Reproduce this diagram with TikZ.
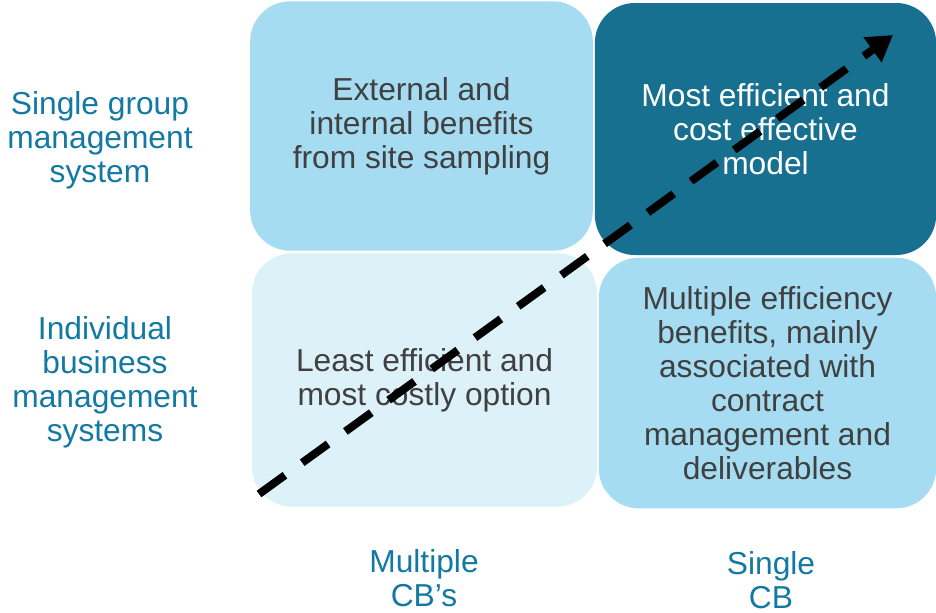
\documentclass[tikz,border=0pt]{standalone}
\usepackage{fontspec}
\setmainfont{Liberation Sans}
\usepackage{tikz}
\usetikzlibrary{arrows.meta,positioning,shapes}
\definecolor{lightcell}{HTML}{A5DCF2}
\definecolor{palecell}{HTML}{DDF1F9}
\definecolor{darkcell}{HTML}{17708F}
\definecolor{axistext}{HTML}{1279A3}
\definecolor{celltext}{HTML}{404040}
\begin{document}
\begin{tikzpicture}[x=0.75pt,y=-0.75pt,every node/.style={font=\fontsize{23.8}{25.5}\selectfont,align=center},cell/.style={rectangle,rounded corners=30pt,text=celltext,inner sep=0pt},axis label/.style={text=axistext},trend/.style={line width=6pt,dash pattern=on 24pt off 16pt,-{Triangle[length=19pt,width=22pt]}}]
\useasboundingbox (0,0) rectangle (936,612);
\begin{scope}
\node[cell,fill=lightcell,minimum width=257pt,minimum height=187pt] (GM) at (421.5,126) {External and\\internal benefits\\from site sampling};
\node[cell,fill=darkcell,text=white,minimum width=256pt,minimum height=189pt] (GS) at (765.5,129) {Most efficient and\\cost effective\\model};
\node[cell,fill=palecell,minimum width=259pt,minimum height=190pt] (IM) at (424.5,380) {Least efficient and\\most costly option};
\node[cell,fill=lightcell,minimum width=253pt,minimum height=188pt] (IS) at (767.5,383) {Multiple efficiency\\benefits, mainly\\associated with\\contract\\management and\\deliverables};
\end{scope}
\begin{scope}
\node[axis label] (group) at (100,140) {Single group\\management\\system};
\node[axis label] (indiv) at (105,382) {Individual\\business\\management\\systems};
\node[axis label] (multi) at (424,578) {Multiple\\CB’s};
\node[axis label] (single) at (771,580) {Single\\CB};
\end{scope}
\coordinate (start) at (259,494);
\coordinate (end) at (893,35);
\draw[trend] (start) -- (end);
\end{tikzpicture}
\end{document}
